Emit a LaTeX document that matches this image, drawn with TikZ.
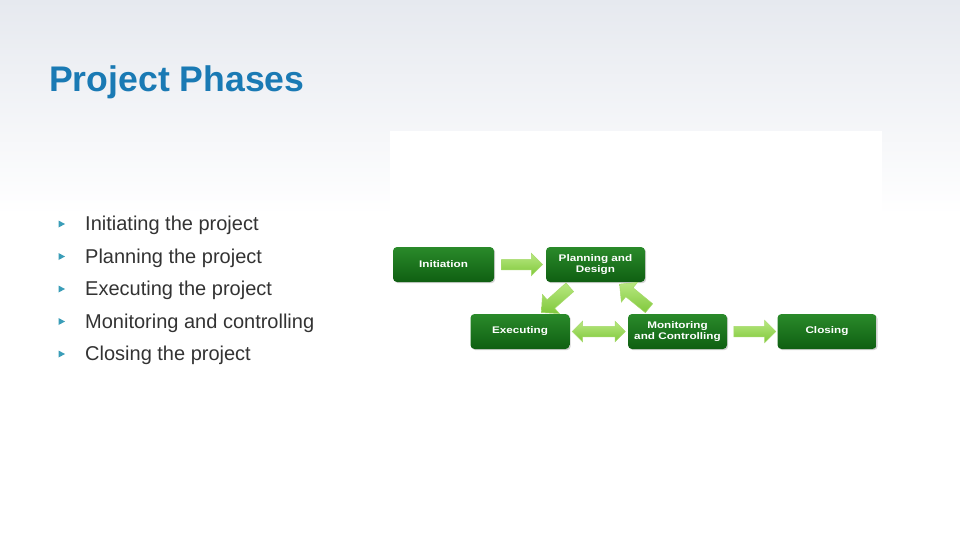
\documentclass[tikz,border=0pt]{standalone}
\usepackage{fontspec}
\setmainfont{Liberation Sans}
\usetikzlibrary{shapes.arrows,shadows,calc}
\definecolor{titleblue}{HTML}{1A7AB4}
\definecolor{bgtop}{HTML}{E6E9EF}
\definecolor{bodytext}{HTML}{333333}
\definecolor{bullet}{HTML}{3A9DB8}
\definecolor{boxtop}{HTML}{2A8A2A}
\definecolor{boxbot}{HTML}{0F5F12}
\definecolor{arrtop}{HTML}{B8E880}
\definecolor{arrbot}{HTML}{80C83C}
\definecolor{arredge}{HTML}{A6DA6A}
\newcommand\bxt[1]{\scalebox{1.22}[1]{#1}}
\tikzset{
  phase/.style={rounded corners=4pt, top color=boxtop, bottom color=boxbot,
    minimum width=99pt, minimum height=35pt, inner sep=0pt, text=white,
    font=\fontsize{9.6}{10.8}\selectfont\bfseries, align=center,
    drop shadow={shadow xshift=1.2pt, shadow yshift=-1.2pt, opacity=0.35}},
  blockarr/.style={single arrow, single arrow head extend=6pt,
    single arrow tip angle=90, inner sep=0pt, text height=5pt, text depth=5pt,
    top color=arrtop, bottom color=arrbot, draw=arredge, line width=0.5pt},
  dblockarr/.style={double arrow, double arrow head extend=5pt,
    double arrow tip angle=90, inner sep=0pt, text height=5pt, text depth=5pt,
    top color=arrtop, bottom color=arrbot, draw=arredge, line width=0.5pt},
  item/.style={anchor=base west, text=bodytext, font=\fontsize{20}{24}\selectfont, inner sep=0pt},
  bul/.style={fill=bullet}
}
\begin{document}
\begin{tikzpicture}[x=1pt,y=-1pt]
\useasboundingbox (0,0) rectangle (960,540);
\fill[white] (0,0) rectangle (960,540);
\shade[top color=bgtop, bottom color=white] (0,0) rectangle (960,215);
\fill[white] (390,131) rectangle (882,420);

\node[anchor=base west, inner sep=0pt, text=titleblue,
  font=\fontsize{35.6}{40}\selectfont\bfseries] (title) at (49,92) {Project Phases};

\foreach \t [count=\i] in {Initiating the project, Planning the project,
  Executing the project, Monitoring and controlling, Closing the project}{
  \pgfmathsetmacro\yb{230.7+32.5*(\i-1)}
  \node[item] (b\i) at (85,\yb) {\t};
  \fill[bul] (58.5,\yb-10.2) -- (58.5,\yb-3.2) -- (65,\yb-6.7) -- cycle;
}

\node[phase, minimum width=101pt] (init) at (443.5,264.5) {\bxt{Initiation}};
\node[phase] (plan) at (595.5,264.5) {\bxt{Planning and}\\\bxt{Design}};
\node[phase] (exec) at (520,331.5) {\bxt{Executing}};
\node[phase] (mon) at (677.5,331.5) {\bxt{Monitoring}\\\bxt{and Controlling}};
\node[phase] (close) at (827,331.5) {\bxt{Closing}};

\path (init) -- (plan) node[pos=0.488, sloped, allow upside down, blockarr, minimum height=41pt] {};
\path (mon) -- (close) node[pos=0.5, sloped, allow upside down, blockarr, minimum height=42pt] {};
\path (exec) -- (mon) node[midway, sloped, allow upside down, dblockarr, minimum height=53pt] {};
\path (plan) -- (exec) node[midway, sloped, allow upside down, blockarr,
  single arrow head extend=7pt, text height=5.5pt, text depth=5.5pt, minimum height=38pt] {};
\path (mon) -- (plan) node[midway, sloped, allow upside down, blockarr,
  single arrow head extend=7pt, text height=5.5pt, text depth=5.5pt, minimum height=38pt] {};
\end{tikzpicture}
\end{document}
